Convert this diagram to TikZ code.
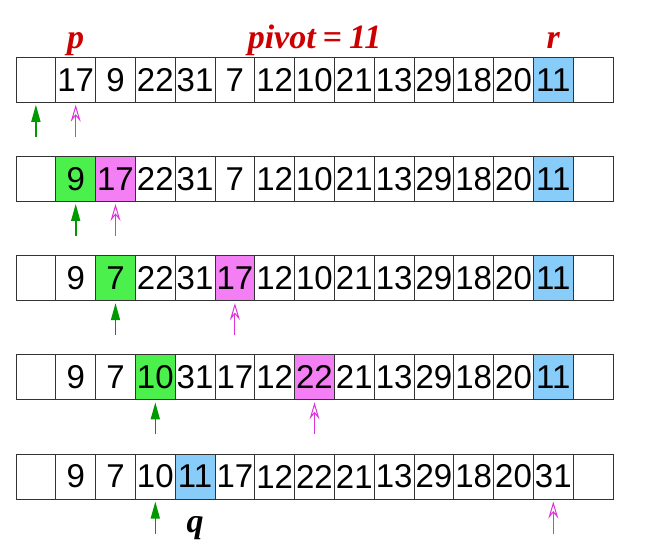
\documentclass[tikz,border=0pt]{standalone}
\usepackage{fontspec}
\setmainfont{Liberation Serif}
\setsansfont{Liberation Sans}
\usetikzlibrary{arrows.meta, positioning, calc}
\definecolor{verde}{HTML}{4CF04C}
\definecolor{verdeosc}{HTML}{009A00}
\definecolor{rosa}{HTML}{F47EF4}
\definecolor{fucsia}{HTML}{DD33DD}
\definecolor{celeste}{HTML}{88CCFA}
\definecolor{rojo}{HTML}{CC0000}
\tikzset{
  cell/.style={draw=black!80, line width=0.5pt, minimum width=19.9pt, minimum height=22.5pt,
               inner sep=0pt, font=\sffamily\fontsize{16.5}{16.5}\selectfont},
  cellw/.style={fill=white},
  cellg/.style={fill=verde},
  cellm/.style={fill=rosa},
  cellb/.style={fill=celeste},
  etiq/.style={anchor=base, inner sep=0pt, font=\rmfamily\fontsize{17}{17}\selectfont\bfseries\itshape},
  flechav/.style={-{Triangle[length=8.5pt, width=4.5pt]}, line width=0.8pt, verdeosc, shorten >=1pt},
  flecham/.style={-{Stealth[open, length=8.5pt, width=5pt, inset=3pt]}, line width=0.5pt, fucsia, shorten >=1pt},
}
\begin{document}
\begin{tikzpicture}[x=0.5pt, y=-0.5pt]
  \useasboundingbox (0,0) rectangle (647,559);
  % row 1
  \node[cell] (r1c0) at (35.9,79.75) {};
  \foreach \v/\s [count=\c] in {17/cellw,9/cellw,22/cellw,31/cellw,7/cellw,12/cellw,10/cellw,21/cellw,13/cellw,29/cellw,18/cellw,20/cellw,11/cellb}
    \node[cell, \s] (r1c\c) at ({16+39.8*(\c+0.5)},79.75) {\v};
  \node[cell] (r1c14) at (593.1,79.75) {};
  % row 2
  \node[cell] (r2c0) at (35.9,178.95) {};
  \foreach \v/\s [count=\c] in {9/cellg,17/cellm,22/cellw,31/cellw,7/cellw,12/cellw,10/cellw,21/cellw,13/cellw,29/cellw,18/cellw,20/cellw,11/cellb}
    \node[cell, \s] (r2c\c) at ({16+39.8*(\c+0.5)},178.95) {\v};
  \node[cell] (r2c14) at (593.1,178.95) {};
  % row 3
  \node[cell] (r3c0) at (35.9,278.15) {};
  \foreach \v/\s [count=\c] in {9/cellw,7/cellg,22/cellw,31/cellw,17/cellm,12/cellw,10/cellw,21/cellw,13/cellw,29/cellw,18/cellw,20/cellw,11/cellb}
    \node[cell, \s] (r3c\c) at ({16+39.8*(\c+0.5)},278.15) {\v};
  \node[cell] (r3c14) at (593.1,278.15) {};
  % row 4
  \node[cell] (r4c0) at (35.9,377.35) {};
  \foreach \v/\s [count=\c] in {9/cellw,7/cellw,10/cellg,31/cellw,17/cellw,12/cellw,22/cellm,21/cellw,13/cellw,29/cellw,18/cellw,20/cellw,11/cellb}
    \node[cell, \s] (r4c\c) at ({16+39.8*(\c+0.5)},377.35) {\v};
  \node[cell] (r4c14) at (593.1,377.35) {};
  % row 5
  \node[cell] (r5c0) at (35.9,476.55) {};
  \foreach \v/\s [count=\c] in {9/cellw,7/cellw,10/cellw,11/cellb,17/cellw,12/cellw,22/cellw,21/cellw,13/cellw,29/cellw,18/cellw,20/cellw,31/cellw}
    \node[cell, \s] (r5c\c) at ({16+39.8*(\c+0.5)},476.55) {\v};
  \node[cell] (r5c14) at (593.1,476.55) {};
  % labels
  \node[etiq, text=rojo] (p) at (75.7,48) {p};
  \node[etiq, text=rojo] (pivot) at (314.5,48) {pivot{\kern3.5pt}={\kern3.5pt}11};
  \node[etiq, text=rojo] (r) at (553.3,48) {r};
  \node[etiq] (q) at (195.1,532) {q};
  % pointers
  \coordinate[below=17pt of r1c0.south] (g1); \draw[flechav] (g1) -- (r1c0);
  \coordinate[below=17pt of r1c1.south] (m1); \draw[flecham] (m1) -- (r1c1);
  \coordinate[below=17pt of r2c1.south] (g2); \draw[flechav] (g2) -- (r2c1);
  \coordinate[below=17pt of r2c2.south] (m2); \draw[flecham] (m2) -- (r2c2);
  \coordinate[below=17pt of r3c2.south] (g3); \draw[flechav] (g3) -- (r3c2);
  \coordinate[below=17pt of r3c5.south] (m3); \draw[flecham] (m3) -- (r3c5);
  \coordinate[below=17pt of r4c3.south] (g4); \draw[flechav] (g4) -- (r4c3);
  \coordinate[below=17pt of r4c7.south] (m4); \draw[flecham] (m4) -- (r4c7);
  \coordinate[below=17pt of r5c3.south] (g5); \draw[flechav] (g5) -- (r5c3);
  \coordinate[below=17pt of r5c13.south] (m5); \draw[flecham] (m5) -- (r5c13);
\end{tikzpicture}
\end{document}
